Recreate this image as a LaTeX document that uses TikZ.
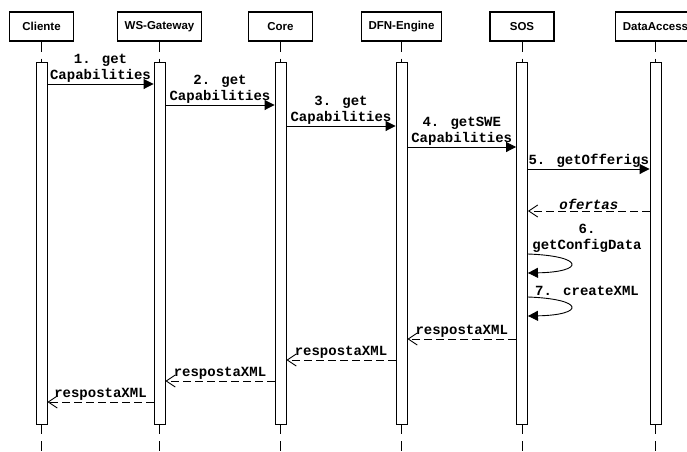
\documentclass[tikz,border=0pt]{standalone}
\usepackage{fontspec}
\setmainfont{Liberation Sans}
\newfontfamily\codefont{Liberation Mono}
\usetikzlibrary{arrows.meta}

\begin{document}
\begin{tikzpicture}[x=1pt,y=-1pt,line width=0.9pt,
    actor/.style={draw,line width=1.1pt,minimum width=64pt,minimum height=29pt,
        inner xsep=7pt,font=\fontsize{11.5}{13}\selectfont\bfseries},
    bar/.style={draw,fill=white,minimum width=11pt,minimum height=362pt,inner sep=0pt},
    life/.style={dash pattern=on 10pt off 7pt},
    call/.style={-{Triangle[length=10pt,width=10pt]}},
    reply/.style={-{Straight Barb[length=9pt,width=12pt]},dash pattern=on 8pt off 4pt},
    lbl/.style={font=\fontsize{14}{16}\selectfont\codefont\bfseries,align=center,inner sep=1pt}]
    \path[use as bounding box,clip] (0,0) rectangle (687,451);

    % participants and lifelines
    \foreach \nm/\xx/\txt in {cli/41.5/Cliente,ws/159.5/WS-Gateway,core/280.5/Core,
        dfn/401.5/DFN-Engine,sos/522/SOS,da/655.5/DataAccess}{
        \node[actor] (\nm) at (\xx,26.5) {\txt};
        \node[bar] (\nm-bar) at (\xx,243) {};
        \draw[life] (\nm.south) -- (\nm-bar.north);
        \draw[life] (\nm-bar.south) -- ++(0,30);
    }

    % calls
    \draw[call] (cli-bar.east |- 0,84) -- node[lbl,above] {1. get\\Capabilities}
        (ws-bar.west |- 0,84);
    \draw[call] (ws-bar.east |- 0,105) -- node[lbl,above] {2. get\\Capabilities}
        (core-bar.west |- 0,105);
    \draw[call] (core-bar.east |- 0,126) -- node[lbl,above] {3. get\\Capabilities}
        (dfn-bar.west |- 0,126);
    \draw[call] (dfn-bar.east |- 0,147) -- node[lbl,above] {4. getSWE\\Capabilities}
        (sos-bar.west |- 0,147);
    \draw[call] (sos-bar.east |- 0,169) -- node[lbl,above] {5. getOfferigs}
        (da-bar.west |- 0,169);
    \draw[reply] (da-bar.west |- 0,211) -- node[lbl,above] {\itshape ofertas}
        (sos-bar.east |- 0,211);

    % self calls on SOS
    \node[lbl,anchor=south] (cfg) at (587,254) {6.\\getConfigData};
    \draw[call] (sos-bar.east |- 0,254) .. controls (585,256) and (585,272) ..
        (sos-bar.east |- 0,273);
    \node[lbl,anchor=south] (xml) at (587,297) {7. createXML};
    \draw[call] (sos-bar.east |- 0,297) .. controls (585,299) and (585,315) ..
        (sos-bar.east |- 0,316);

    % replies
    \draw[reply] (sos-bar.west |- 0,339) -- node[lbl,above] {respostaXML}
        (dfn-bar.east |- 0,339);
    \draw[reply] (dfn-bar.west |- 0,360) -- node[lbl,above] {respostaXML}
        (core-bar.east |- 0,360);
    \draw[reply] (core-bar.west |- 0,381) -- node[lbl,above] {respostaXML}
        (ws-bar.east |- 0,381);
    \draw[reply] (ws-bar.west |- 0,402) -- node[lbl,above] {respostaXML}
        (cli-bar.east |- 0,402);
\end{tikzpicture}
\end{document}
